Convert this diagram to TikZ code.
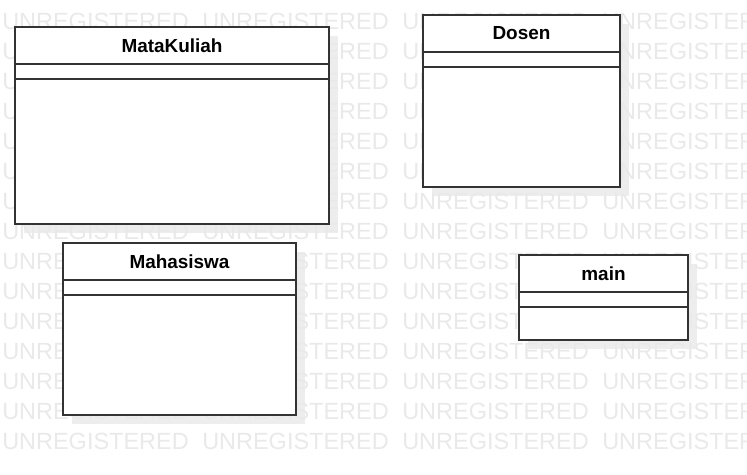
\documentclass[tikz,border=0pt]{standalone}
\usepackage{fontspec}
\setmainfont{Liberation Sans}
\usetikzlibrary{positioning,backgrounds}
\definecolor{markgray}{HTML}{E9E9E9}
\definecolor{linegray}{HTML}{333333}
\tikzset{
  classhead/.style = {
    draw=linegray,line width=1.2pt,fill=white,inner sep=0pt,outer sep=0pt,
    minimum width=#1*0.75pt,minimum height=37*0.75pt,
    font=\fontsize{14.2}{16}\selectfont\bfseries
  },
  classpart/.style 2 args = {
    draw=linegray,line width=1.2pt,fill=white,inner sep=0pt,outer sep=0pt,
    minimum width=#1*0.75pt,minimum height=#2*0.75pt
  },
  watermark/.style = {text=markgray,anchor=base west,inner sep=0pt,font=\fontsize{17.6}{20}\selectfont},
  classshadow/.style = {fill=black,opacity=0.07}
}

\begin{document}
\begin{tikzpicture}[x=0.75pt,y=-0.75pt]
  \useasboundingbox (0,0) rectangle (747,475);
  % watermark
  \begin{scope}
    \clip (0,0) rectangle (747,475);
    \foreach \r in {0,...,14} {
      \foreach \c in {0,...,3} {
        \node[watermark] (wm-\r-\c) at (2+200*\c,29+30*\r) {UNREGISTERED};
      }
    }
  \end{scope}
  % MataKuliah
  \node[classhead=314,anchor=north west] (mk) at (15,27) {MataKuliah};
  \node[classpart={314}{15},below=0pt of mk] (mkattr) {};
  \node[classpart={314}{145},below=0pt of mkattr] (mkops) {};
  % Dosen
  \node[classhead=197,anchor=north west] (ds) at (423,15) {Dosen};
  \node[classpart={197}{15},below=0pt of ds] (dsattr) {};
  \node[classpart={197}{120},below=0pt of dsattr] (dsops) {};
  % Mahasiswa
  \node[classhead=233,anchor=north west] (mh) at (63,243) {Mahasiswa};
  \node[classpart={233}{15},below=0pt of mh] (mhattr) {};
  \node[classpart={233}{120},below=0pt of mhattr] (mhops) {};
  % main
  \node[classhead=169,anchor=north west] (mn) at (519,255) {main};
  \node[classpart={169}{15},below=0pt of mn] (mnattr) {};
  \node[classpart={169}{33},below=0pt of mnattr] (mnops) {};
  % shadows
  \begin{pgfonlayer}{background}
    \foreach \h/\b in {mk/mkops,ds/dsops,mh/mhops,mn/mnops} {
      \fill[classshadow] ([shift={(9,9)}]\h.north west) rectangle ([shift={(9,9)}]\b.south east);
    }
  \end{pgfonlayer}
\end{tikzpicture}
\end{document}
